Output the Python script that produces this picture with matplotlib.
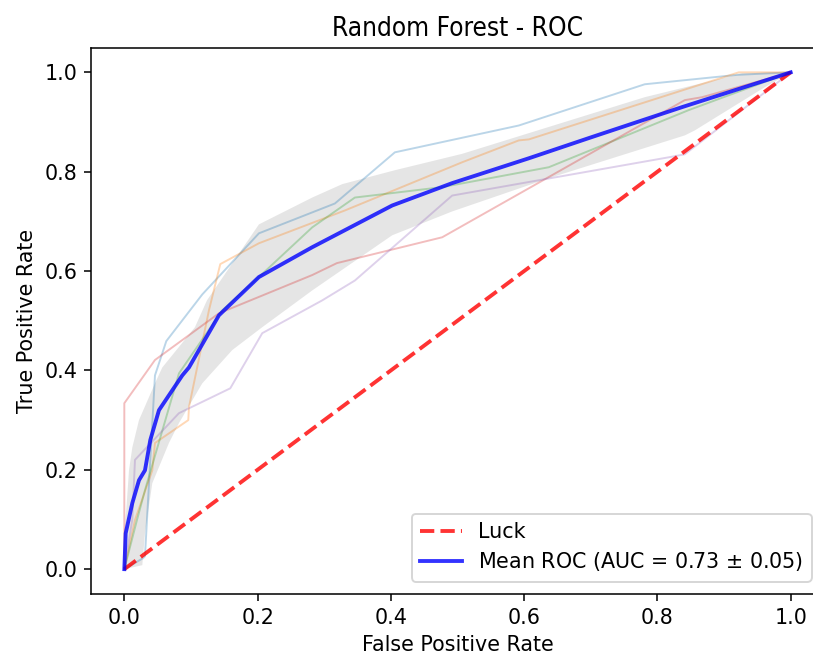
import numpy as np
import matplotlib
matplotlib.use("Agg")
import matplotlib.pyplot as plt

# Per-fold ROC curves
fold0_fpr = [0, 0.028, 0.031, 0.046, 0.063, 0.117, 0.202, 0.316, 0.406, 0.592, 0.781, 0.92, 1.0]
fold0_tpr = [0, 0.022, 0.026, 0.39, 0.459, 0.553, 0.676, 0.736, 0.839, 0.893, 0.976, 0.995, 1.0]

fold1_fpr = [0, 0.005, 0.016, 0.042, 0.046, 0.096, 0.097, 0.127, 0.144, 0.202, 0.331, 0.507, 0.592, 0.607, 0.922, 1.0]
fold1_tpr = [0, 0.03, 0.099, 0.199, 0.254, 0.300, 0.326, 0.521, 0.614, 0.656, 0.722, 0.819, 0.863, 0.865, 1.0, 1.0]

fold2_fpr = [0, 0.019, 0.031, 0.082, 0.147, 0.202, 0.282, 0.346, 0.477, 0.637, 0.847, 1.0]
fold2_tpr = [0, 0.099, 0.159, 0.394, 0.521, 0.588, 0.688, 0.748, 0.769, 0.809, 0.924, 1.0]

fold3_fpr = [0, 0, 0.046, 0.142, 0.282, 0.319, 0.477, 0.841, 0.867, 1.0]
fold3_tpr = [0, 0.334, 0.421, 0.515, 0.592, 0.616, 0.668, 0.944, 0.950, 1.0]

fold4_fpr = [0, 0.012, 0.016, 0.082, 0.159, 0.207, 0.297, 0.346, 0.492, 0.817, 0.841, 1.0]
fold4_tpr = [0, 0.10, 0.22, 0.314, 0.364, 0.475, 0.541, 0.581, 0.752, 0.829, 0.835, 1.0]

folds = [(fold0_fpr, fold0_tpr), (fold1_fpr, fold1_tpr), (fold2_fpr, fold2_tpr),
         (fold3_fpr, fold3_tpr), (fold4_fpr, fold4_tpr)]
fold_colors = ["C0", "C1", "C2", "C3", "C4"]

# Mean ROC
mean_fpr = [0, 0.002, 0.012, 0.022, 0.031, 0.039, 0.052, 0.087, 0.097, 0.142, 0.202, 0.282,
            0.402, 0.492, 0.607, 0.70, 0.837, 1.0]
mean_tpr = [0, 0.072, 0.133, 0.179, 0.199, 0.260, 0.320, 0.390, 0.406, 0.511, 0.588, 0.648,
            0.732, 0.777, 0.827, 0.869, 0.930, 1.0]

# +/- 1 std band
upper_fpr = [0, 0.003, 0.007, 0.012, 0.022, 0.046, 0.057, 0.106, 0.124, 0.202, 0.282, 0.327,
             0.406, 0.507, 0.781, 0.927, 1.0]
upper_tpr = [0.08, 0.12, 0.199, 0.245, 0.300, 0.374, 0.406, 0.487, 0.541, 0.694, 0.748, 0.775,
             0.803, 0.836, 0.950, 0.998, 1.0]
lower_fpr = [0, 0.027, 0.031, 0.042, 0.067, 0.082, 0.117, 0.162, 0.207, 0.282, 0.402, 0.492,
             0.642, 0.841, 0.856, 0.961, 1.0]
lower_tpr = [0, 0.008, 0.072, 0.173, 0.254, 0.294, 0.374, 0.441, 0.487, 0.561, 0.672, 0.720,
             0.789, 0.873, 0.883, 0.970, 1.0]

auc_mean = 0.73
auc_std = 0.05

plt.rcParams["font.size"] = 10.7

dpi = 139
fig = plt.figure(figsize=(813 / dpi, 657 / dpi), dpi=dpi)
W, H = 813, 657
left, right, top, bottom = 91, 824, 47.5, 594
ax = fig.add_axes([left / W, 1 - bottom / H, (right - left) / W, (bottom - top) / H])

for (fx, fy), c in zip(folds, fold_colors):
    ax.plot(fx, fy, lw=1, alpha=0.3, color=c)

ax.plot([0, 1], [0, 1], linestyle="--", lw=2, color="r", label="Luck", alpha=0.8)
ax.plot(mean_fpr, mean_tpr, color="b",
        label=r"Mean ROC (AUC = %0.2f $\pm$ %0.2f)" % (auc_mean, auc_std), lw=2, alpha=0.8)

poly_x = np.r_[upper_fpr, lower_fpr[::-1]]
poly_y = np.r_[upper_tpr, lower_tpr[::-1]]
ax.fill(poly_x, poly_y, color="grey", alpha=0.2, lw=0)

ax.set_xlim(-0.05, 1.05)
ax.set_ylim(-0.05, 1.05)
ax.set_xlabel("False Positive Rate")
ax.set_ylabel("True Positive Rate")
ax.set_title("Random Forest - ROC", fontsize=13.5, fontstretch="condensed")
ax.legend(loc="lower right", borderaxespad=0.6, labelspacing=0.4)

fig.savefig("out.png", dpi=dpi)
